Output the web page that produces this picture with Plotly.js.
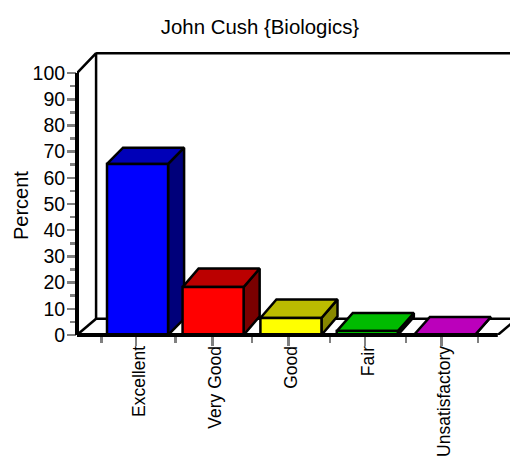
<!DOCTYPE html>
<html>
<head>
<meta charset="utf-8">
<script src="https://cdn.plot.ly/plotly-3.0.1.min.js"></script>
<style>html,body{margin:0;padding:0;background:#fff}</style>
</head>
<body>
<div id="chart" style="width:510px;height:459px"></div>
<script>
const categories = ["Excellent", "Very Good", "Good", "Fair", "Unsatisfactory"];
const values = [65.3, 18.3, 6.5, 1.5, 0];
const frontColors = ["#0000ff", "#ff0000", "#ffff00", "#00ff00", "#ff00ff"];
const topColors = ["#0000b8", "#bb0000", "#bbbb00", "#00bb00", "#bb00bb"];
const sideColors = ["#00007a", "#7a0000", "#888800", "#008800", "#880088"];
const yTicks = [0, 10, 20, 30, 40, 50, 60, 70, 80, 90, 100];

// Plot scales
const xRange = [-0.773, 4.9];
const yRange = [0, 108.8];
// Depth of the 3D projection, in axis units
const barDX = 0.21;
const barDY = [6.2, 7.1, 7.1, 6.9, 6.9];
const wallDX = 0.25, wallDY = 6.2;
const halfW = 0.4, shift = [0.02, 0.01, 0.03, 0.03, 0.04];
const floorEnd = 4.74;
const LW = 2.5;

function poly(xs, ys, color) {
  return {type: "scatter", mode: "lines", x: xs, y: ys, fill: "toself", fillcolor: color,
    line: {color: "#000", width: LW, simplify: false}, hoverinfo: "skip", showlegend: false, cliponaxis: false};
}
function line(xs, ys, w, clip) {
  return {type: "scatter", mode: "lines", x: xs, y: ys,
    line: {color: "#000", width: w, simplify: false}, hoverinfo: "skip", showlegend: false, cliponaxis: clip};
}

const x0 = xRange[0];
const traces = [];
// back wall and floor
traces.push(line([x0, x0 + wallDX, x0 + wallDX, xRange[1]], [100, 100 + wallDY + 1.4, wallDY, wallDY], 2.5, true));
traces.push(line([x0 + wallDX, xRange[1]], [100 + wallDY + 1.4, 100 + wallDY + 1.4], 2.5, true));
traces.push(line([x0, x0 + wallDX], [0, wallDY], 2.5, true));
traces.push(line([floorEnd, floorEnd + wallDX], [0, wallDY], 2.5, true));

categories.forEach((c, i) => {
  const l = i + shift[i] - halfW, r = i + shift[i] + halfW, v = values[i], d = barDY[i];
  traces.push(poly([r, r + barDX, r + barDX, r, r], [0, d, v + d, v, 0], sideColors[i]));
  traces.push(poly([l, l + barDX, r + barDX, r, l], [v, v + d, v + d, v, v], topColors[i]));
  traces.push(poly([l, r, r, l, l], [0, 0, v, v, 0], frontColors[i]));
});

const font = {family: "Liberation Sans, Arial, sans-serif", color: "#000"};
const layout = {
  width: 510, height: 459,
  margin: {l: 77, r: 0, t: 50, b: 124, pad: 0},
  paper_bgcolor: "#fff", plot_bgcolor: "#fff",
  showlegend: false,
  title: {text: "John Cush {Biologics}", x: 260 / 510, xanchor: "center", y: 1 - 27 / 459, yanchor: "middle",
    font: Object.assign({}, font, {size: 20.4})},
  xaxis: {
    range: xRange, tickmode: "array", tickvals: categories.map((c, i) => i), ticktext: categories,
    tickangle: -90, ticks: "outside", ticklen: 10, tickwidth: 2.5, tickcolor: "#808080",
    ticklabelstandoff: -7, ticklabelshift: 3,
    tickfont: Object.assign({}, font, {size: 17.5}),
    minor: {tickmode: "array", tickvals: [-0.45, 0.52, 1.52, 2.54, 3.54, 4.48], ticks: "outside", ticklen: 7, tickwidth: 2.5, tickcolor: "#808080"},
    showgrid: false, zeroline: false, showline: false, automargin: false, fixedrange: true
  },
  yaxis: {
    range: yRange, tickmode: "array", tickvals: yTicks, ticks: "outside", ticklen: 9, tickwidth: 2.5, tickcolor: "#808080",
    ticklabelstandoff: -2,
    tickfont: Object.assign({}, font, {size: 19.5}),
    minor: {tickmode: "array", tickvals: yTicks.slice(0, -1).map(t => t + 5), ticks: "outside", ticklen: 6, tickwidth: 2.5, tickcolor: "#808080"},
    showgrid: false, zeroline: false, showline: false,
    automargin: false, fixedrange: true
  },
  // thick axes: the value axis is only as tall as the scale, the category axis stops at the floor's edge
  shapes: [
    {type: "line", layer: "above", xref: "paper", yref: "y", x0: 0, x1: 0, y0: 0, y1: 100, line: {color: "#000", width: 4}},
    {type: "line", layer: "above", xref: "x", yref: "paper", x0: x0, x1: floorEnd, y0: 0, y1: 0, line: {color: "#000", width: 4}}
  ],
  annotations: [{
    text: "Percent", textangle: -90, showarrow: false, xref: "paper", yref: "paper",
    x: (21 - 77) / 433, y: (335 - 205) / 285, xanchor: "center", yanchor: "middle",
    font: Object.assign({}, font, {size: 20})
  }]
};
Plotly.newPlot("chart", traces, layout, {displayModeBar: false, staticPlot: true});
</script>
</body>
</html>
